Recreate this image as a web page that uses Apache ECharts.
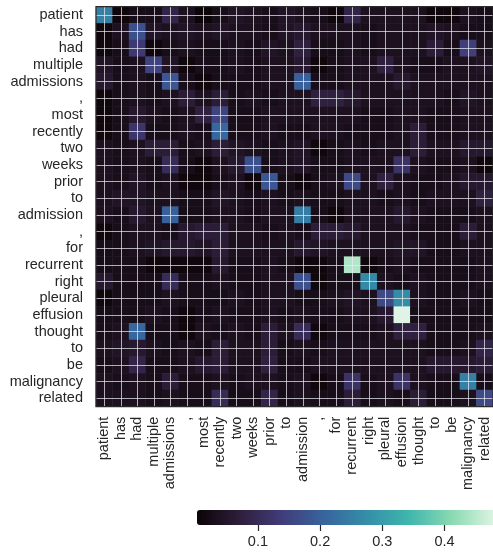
<!DOCTYPE html>
<html><head><meta charset="utf-8">
<script src="https://cdn.jsdelivr.net/npm/echarts@6/dist/echarts.min.js"></script>
<style>html,body{margin:0;padding:0;background:#fff}#c{width:493px;height:553px}</style>
</head><body><div id="c"></div>
<script>
const tokens = ['patient','has','had','multiple','admissions',',','most','recently','two','weeks','prior','to','admission',',','for','recurrent','right','pleural','effusion','thought','to','be','malignancy','related'];

const rowPatient    = [0.25, 0.01, 0.028, 0.028, 0.085, 0.036, 0.004, 0.028, 0.045, 0.036, 0.028, 0.045, 0.036, 0.028, 0.01, 0.085, 0.036, 0.036, 0.036, 0.036, 0.01, 0.01, 0.036, 0.028];
const rowHas        = [0.01, 0.036, 0.17, 0.045, 0.036, 0.045, 0.036, 0.045, 0.036, 0.036, 0.028, 0.045, 0.055, 0.036, 0.036, 0.036, 0.028, 0.036, 0.036, 0.036, 0.045, 0.036, 0.028, 0.028];
const rowHad        = [0.01, 0.028, 0.13, 0.01, 0.028, 0.036, 0.028, 0.028, 0.036, 0.028, 0.045, 0.036, 0.075, 0.028, 0.028, 0.036, 0.028, 0.036, 0.036, 0.036, 0.065, 0.028, 0.14, 0.036];
const rowMultiple   = [0.045, 0.028, 0.036, 0.15, 0.045, 0.01, 0.028, 0.028, 0.036, 0.028, 0.036, 0.036, 0.055, 0.01, 0.028, 0.036, 0.036, 0.075, 0.036, 0.028, 0.028, 0.036, 0.036, 0.045];
const rowAdmissions = [0.055, 0.028, 0.036, 0.028, 0.18, 0.028, 0.01, 0.028, 0.028, 0.028, 0.036, 0.036, 0.2, 0.028, 0.028, 0.036, 0.036, 0.036, 0.055, 0.036, 0.036, 0.036, 0.036, 0.036];
const rowComma1     = [0.01, 0.028, 0.036, 0.028, 0.036, 0.065, 0.036, 0.065, 0.028, 0.036, 0.028, 0.036, 0.036, 0.075, 0.075, 0.055, 0.036, 0.036, 0.036, 0.036, 0.036, 0.028, 0.045, 0.036];
const rowMost       = [0.01, 0.028, 0.055, 0.036, 0.028, 0.036, 0.075, 0.15, 0.028, 0.028, 0.036, 0.036, 0.036, 0.036, 0.036, 0.036, 0.028, 0.028, 0.036, 0.036, 0.028, 0.028, 0.036, 0.036];
const rowRecently   = [0.01, 0.028, 0.12, 0.028, 0.028, 0.036, 0.028, 0.21, 0.028, 0.028, 0.036, 0.028, 0.028, 0.036, 0.036, 0.028, 0.028, 0.028, 0.036, 0.065, 0.028, 0.028, 0.036, 0.036];
const rowTwo        = [0.036, 0.028, 0.036, 0.065, 0.065, 0.028, 0.036, 0.065, 0.045, 0.036, 0.028, 0.036, 0.045, 0.01, 0.028, 0.036, 0.028, 0.036, 0.036, 0.065, 0.036, 0.036, 0.055, 0.055];
const rowWeeks      = [0.036, 0.028, 0.036, 0.028, 0.1, 0.028, 0.01, 0.036, 0.055, 0.17, 0.028, 0.036, 0.045, 0.028, 0.028, 0.036, 0.036, 0.036, 0.115, 0.036, 0.028, 0.028, 0.036, 0.01];
const rowPrior      = [0.036, 0.028, 0.045, 0.028, 0.036, 0.01, 0.01, 0.028, 0.036, 0.01, 0.18, 0.028, 0.01, 0.028, 0.036, 0.16, 0.036, 0.075, 0.036, 0.028, 0.028, 0.036, 0.055, 0.055];
const rowTo1        = [0.036, 0.045, 0.045, 0.036, 0.036, 0.028, 0.028, 0.045, 0.036, 0.028, 0.036, 0.028, 0.036, 0.028, 0.028, 0.036, 0.036, 0.028, 0.036, 0.028, 0.036, 0.036, 0.036, 0.075];
const rowAdmission  = [0.036, 0.028, 0.055, 0.036, 0.2, 0.028, 0.028, 0.036, 0.036, 0.028, 0.036, 0.036, 0.245, 0.028, 0.01, 0.036, 0.036, 0.036, 0.055, 0.036, 0.028, 0.028, 0.028, 0.036];
const rowComma2     = [0.01, 0.028, 0.036, 0.036, 0.028, 0.055, 0.065, 0.065, 0.036, 0.036, 0.028, 0.036, 0.028, 0.065, 0.065, 0.055, 0.036, 0.036, 0.036, 0.028, 0.028, 0.028, 0.065, 0.036];
const rowFor        = [0.028, 0.028, 0.036, 0.045, 0.055, 0.055, 0.045, 0.065, 0.036, 0.036, 0.036, 0.036, 0.055, 0.045, 0.036, 0.036, 0.036, 0.036, 0.045, 0.045, 0.028, 0.028, 0.036, 0.036];
const rowRecurrent  = [0.028, 0.028, 0.028, 0.01, 0.01, 0.01, 0.01, 0.055, 0.028, 0.028, 0.036, 0.028, 0.01, 0.01, 0.028, 0.44, 0.01, 0.028, 0.036, 0.028, 0.028, 0.028, 0.028, 0.036];
const rowRight      = [0.055, 0.028, 0.028, 0.028, 0.1, 0.028, 0.028, 0.036, 0.028, 0.028, 0.036, 0.036, 0.17, 0.01, 0.028, 0.028, 0.265, 0.036, 0.028, 0.036, 0.028, 0.028, 0.028, 0.036];
const rowPleural    = [0.01, 0.028, 0.028, 0.028, 0.036, 0.028, 0.028, 0.028, 0.036, 0.028, 0.036, 0.036, 0.028, 0.028, 0.036, 0.045, 0.036, 0.16, 0.27, 0.036, 0.028, 0.028, 0.036, 0.028];
const rowEffusion   = [0.028, 0.028, 0.028, 0.036, 0.028, 0.01, 0.028, 0.036, 0.028, 0.028, 0.036, 0.028, 0.036, 0.028, 0.028, 0.036, 0.036, 0.055, 0.478, 0.028, 0.028, 0.028, 0.028, 0.028];
const rowThought    = [0.028, 0.036, 0.21, 0.028, 0.028, 0.01, 0.036, 0.028, 0.036, 0.028, 0.065, 0.036, 0.1, 0.01, 0.028, 0.028, 0.028, 0.036, 0.075, 0.075, 0.028, 0.028, 0.028, 0.036];
const rowTo2        = [0.036, 0.045, 0.055, 0.036, 0.028, 0.036, 0.028, 0.065, 0.036, 0.036, 0.065, 0.028, 0.036, 0.028, 0.036, 0.036, 0.036, 0.036, 0.036, 0.036, 0.028, 0.028, 0.036, 0.085];
const rowBe         = [0.028, 0.036, 0.085, 0.028, 0.028, 0.036, 0.055, 0.065, 0.036, 0.036, 0.075, 0.028, 0.028, 0.036, 0.036, 0.036, 0.036, 0.036, 0.036, 0.036, 0.055, 0.055, 0.055, 0.065];
const rowMalignancy = [0.036, 0.028, 0.036, 0.028, 0.065, 0.028, 0.028, 0.036, 0.028, 0.036, 0.036, 0.028, 0.036, 0.01, 0.028, 0.115, 0.028, 0.036, 0.115, 0.036, 0.028, 0.028, 0.25, 0.028];
const rowRelated    = [0.036, 0.036, 0.036, 0.028, 0.036, 0.028, 0.028, 0.1, 0.028, 0.028, 0.085, 0.028, 0.036, 0.028, 0.028, 0.065, 0.028, 0.036, 0.028, 0.065, 0.028, 0.028, 0.036, 0.16];

const rows = [rowPatient, rowHas, rowHad, rowMultiple, rowAdmissions, rowComma1, rowMost, rowRecently, rowTwo, rowWeeks, rowPrior, rowTo1, rowAdmission, rowComma2, rowFor, rowRecurrent, rowRight, rowPleural, rowEffusion, rowThought, rowTo2, rowBe, rowMalignancy, rowRelated];

const colorbarTicks = [0.1, 0.2, 0.3, 0.4];
const vMin = 0.002, vMax = 0.478;
const makoStops = ['#0b0405', '#2e1e3b', '#413d7b', '#37659e', '#348fa7', '#40b7ad', '#8bdab2', '#def5e5'];

const cells = [];
rows.forEach((r, yi) => r.forEach((v, xi) => cells.push([xi, yi, v])));

const gridLineStyle = { color: 'rgba(235,235,240,0.72)', width: 1 };
const labelFont = 'Liberation Sans, Arial, sans-serif';

const chart = echarts.init(document.getElementById('c'), null, { renderer: 'canvas' });
chart.setOption({
  animation: false,
  textStyle: { fontFamily: labelFont },
  grid: [
    { left: 96, top: 6.67, width: 400, height: 400, show: true, backgroundColor: 'transparent', borderColor: '#2a2a2a', borderWidth: 1.2, z: 10 },
    { left: 197, top: 510, width: 298, height: 15 }
  ],
  xAxis: [
    { type: 'category', gridIndex: 0, data: tokens, position: 'bottom', z: 5,
      axisLine: { show: false },
      axisTick: { show: true, alignWithLabel: true, inside: true, length: 400, lineStyle: gridLineStyle },
      axisLabel: { rotate: 90, interval: 0, fontSize: 14.5, color: '#262626', margin: 10, fontFamily: labelFont },
      splitLine: { show: false } },
    { type: 'value', gridIndex: 1, min: vMin, max: vMax,
      axisLine: { show: false },
      axisTick: { show: true, customValues: colorbarTicks, length: 6, lineStyle: { color: '#262626', width: 1.2 } },
      axisLabel: { customValues: colorbarTicks, fontSize: 14.5, color: '#262626', margin: 9, fontFamily: labelFont },
      splitLine: { show: false } }
  ],
  yAxis: [
    { type: 'category', gridIndex: 0, data: tokens, inverse: true, z: 5,
      axisLine: { show: false },
      axisTick: { show: true, alignWithLabel: true, inside: true, length: 400, lineStyle: gridLineStyle },
      axisLabel: { interval: 0, fontSize: 14.5, color: '#262626', margin: 13, fontFamily: labelFont },
      splitLine: { show: false } },
    { type: 'value', gridIndex: 1, show: false, min: 0, max: 1 }
  ],
  visualMap: {
    type: 'continuous', min: vMin, max: vMax, seriesIndex: 0, orient: 'horizontal',
    left: 197, top: 510, itemWidth: 15, itemHeight: 298, padding: 0,
    calculable: false, hoverLink: false, inRange: { color: makoStops }
  },
  series: [
    { type: 'heatmap', xAxisIndex: 0, yAxisIndex: 0, data: cells, progressive: 0 }
  ]
});
</script>
</body></html>
